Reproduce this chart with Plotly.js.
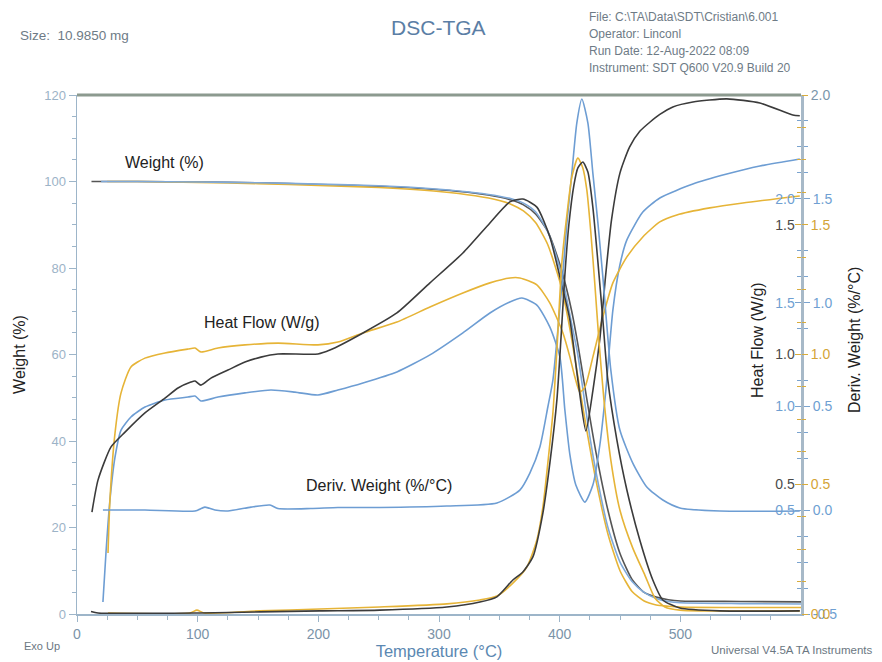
<!DOCTYPE html>
<html>
<head>
<meta charset="utf-8">
<script src="https://cdn.plot.ly/plotly-3.0.1.min.js"></script>
<style>
  html, body { margin: 0; padding: 0; background: #ffffff; }
  #chart { width: 882px; height: 662px; }
</style>
</head>
<body>
<div id="chart"></div>
<script>
// ---- Weight (%) vs temperature (°C) for the three runs ----
const wBlueT  = [20, 50, 100, 150, 200, 250, 300, 330, 350, 360, 370, 380, 390, 400, 405, 410, 415, 420, 425, 430, 440, 450, 460, 470, 480, 490, 500, 550, 600];
const wBlue   = [100.0, 100.0, 99.9, 99.7, 99.4, 99.0, 98.2, 97.4, 96.6, 96.0, 95.0, 93.0, 88.5, 80.0, 74.0, 67.0, 60.0, 50.5, 41.0, 33.0, 20.0, 12.0, 7.5, 5.0, 3.6, 2.9, 2.6, 2.4, 2.3];
const wBlackT = [12, 50, 100, 150, 200, 250, 300, 330, 350, 360, 370, 380, 390, 400, 405, 410, 415, 420, 425, 430, 440, 450, 460, 470, 480, 490, 500, 550, 600];
const wBlack  = [100.0, 100.0, 99.9, 99.7, 99.3, 98.9, 98.1, 97.3, 96.4, 95.7, 94.6, 92.5, 88.5, 81.0, 76.0, 70.0, 62.5, 54.0, 45.5, 37.5, 24.0, 14.0, 8.0, 5.0, 3.9, 3.3, 3.0, 2.9, 2.8];
const wGoldT  = [25, 50, 100, 150, 200, 250, 300, 330, 350, 360, 370, 380, 390, 400, 405, 410, 415, 420, 425, 430, 440, 450, 460, 470, 480, 490, 500, 550, 600];
const wGold   = [100.0, 100.0, 99.8, 99.5, 99.1, 98.6, 97.7, 96.7, 95.6, 94.7, 93.2, 90.5, 85.5, 77.0, 71.0, 63.5, 55.0, 46.5, 38.5, 31.0, 18.5, 10.0, 5.2, 3.0, 2.1, 1.8, 1.6, 1.5, 1.5];

// ---- Heat flow (W/g) ----
const hfBlueT  = [21.5, 24.0, 27.3, 31.5, 36.5, 44.7, 56.3, 72.9, 92.0, 97.8, 102.7, 116.8, 139.2, 160.7, 180.6, 199.7, 216.2, 237.0, 265.1, 292.5, 319.8, 342.2, 358.7, 368.7, 381.1, 391.9, 400.2, 404.3, 408.5, 413.4, 420.9, 427.5, 433.3, 438.3, 444.1, 449.9, 455.7, 468.9, 483.0, 510.4, 538.5, 565.9, 599.0];
const hfBlue   = [0.058, 0.294, 0.549, 0.756, 0.886, 0.949, 0.997, 1.031, 1.045, 1.050, 1.026, 1.045, 1.065, 1.079, 1.069, 1.055, 1.079, 1.113, 1.166, 1.248, 1.354, 1.450, 1.503, 1.522, 1.488, 1.382, 1.238, 0.983, 0.766, 0.621, 0.539, 0.621, 0.814, 1.079, 1.464, 1.681, 1.802, 1.936, 2.004, 2.071, 2.119, 2.158, 2.192];
const hfBlackT = [12.4, 17.4, 28.2, 39.8, 56.3, 72.9, 83.7, 94.4, 97.8, 102.7, 111.0, 125.1, 139.2, 152.4, 166.5, 199.7, 209.6, 237.0, 265.1, 292.5, 319.8, 342.2, 358.7, 369.5, 381.1, 391.9, 400.2, 408.5, 415.1, 421.7, 427.5, 433.3, 438.0, 443.0, 450.0, 458.0, 466.4, 474.7, 483.0, 493.8, 510.4, 538.5, 565.9, 593.2, 599.0];
const hfBlack  = [0.393, 0.516, 0.644, 0.701, 0.775, 0.832, 0.871, 0.894, 0.898, 0.882, 0.909, 0.940, 0.971, 0.990, 1.002, 1.002, 1.017, 1.083, 1.160, 1.276, 1.391, 1.507, 1.588, 1.599, 1.568, 1.453, 1.299, 1.133, 0.902, 0.705, 0.860, 1.060, 1.300, 1.520, 1.700, 1.800, 1.860, 1.895, 1.925, 1.954, 1.973, 1.985, 1.969, 1.923, 1.920];
const hfGoldT  = [25.7, 27.3, 31.5, 36.5, 44.7, 56.3, 72.9, 92.0, 97.8, 102.7, 116.8, 139.2, 166.5, 199.7, 216.2, 237.0, 265.1, 292.5, 319.8, 342.2, 358.7, 367.0, 381.1, 391.9, 402.7, 408.5, 412.6, 416.7, 421.0, 427.5, 435.8, 444.1, 455.7, 468.9, 483.0, 497.1, 524.4, 551.8, 599.0];
const hfGold   = [0.235, 0.439, 0.697, 0.852, 0.952, 0.986, 1.006, 1.021, 1.025, 1.010, 1.025, 1.037, 1.044, 1.037, 1.048, 1.083, 1.125, 1.183, 1.237, 1.276, 1.295, 1.295, 1.268, 1.198, 1.083, 0.990, 0.913, 0.855, 0.875, 0.990, 1.145, 1.276, 1.376, 1.453, 1.511, 1.538, 1.565, 1.584, 1.611];

// ---- Derivative weight (%/°C) ----
const dwBlueT  = [21.5, 56.3, 97.8, 106.0, 114.3, 125.1, 144.2, 159.9, 166.5, 193.9, 216.2, 251.0, 306.5, 348.0, 367.0, 375.3, 383.6, 390.2, 394.4, 398.5, 402.7, 406.0, 410.1, 414.2, 418.4, 423.4, 427.5, 431.7, 435.8, 442.4, 449.9, 460.6, 472.2, 485.5, 499.6, 532.7, 599.0];
const dwBlue   = [0.001, 0.001, -0.004, 0.015, 0.001, -0.004, 0.015, 0.025, 0.008, 0.008, 0.013, 0.013, 0.020, 0.035, 0.097, 0.179, 0.304, 0.497, 0.627, 0.868, 1.143, 1.383, 1.624, 1.865, 1.981, 1.865, 1.624, 1.383, 1.123, 0.675, 0.386, 0.227, 0.112, 0.049, 0.011, -0.004, -0.004];
const dwBlackT = [11.6, 17.4, 101.9, 151.6, 201.3, 251.0, 306.5, 333.9, 348.0, 361.2, 369.5, 377.8, 386.1, 391.9, 397.7, 401.0, 404.3, 407.6, 411.8, 415.1, 419.2, 423.4, 427.5, 431.7, 435.8, 439.9, 447.4, 455.7, 466.4, 477.2, 485.5, 499.6, 532.7, 599.0];
const dwBlack  = [0.010, 0.004, 0.004, 0.008, 0.012, 0.015, 0.027, 0.046, 0.066, 0.131, 0.162, 0.220, 0.389, 0.582, 0.825, 1.056, 1.306, 1.499, 1.653, 1.719, 1.742, 1.703, 1.568, 1.356, 1.133, 0.902, 0.671, 0.478, 0.285, 0.131, 0.054, 0.023, 0.012, 0.012];
const dwGoldT  = [25.7, 93.6, 99.4, 105.2, 151.6, 201.3, 251.0, 306.5, 333.9, 348.0, 361.2, 372.8, 381.1, 386.1, 390.2, 394.4, 397.7, 401.8, 406.0, 410.1, 415.1, 419.2, 422.5, 425.8, 429.2, 432.5, 436.7, 442.4, 449.9, 460.6, 470.6, 478.9, 487.2, 499.6, 599.0];
const dwGold   = [0.004, 0.004, 0.015, 0.004, 0.012, 0.019, 0.027, 0.039, 0.054, 0.069, 0.119, 0.181, 0.285, 0.412, 0.582, 0.775, 1.017, 1.353, 1.538, 1.684, 1.757, 1.719, 1.634, 1.472, 1.268, 1.056, 0.825, 0.593, 0.401, 0.254, 0.150, 0.062, 0.027, 0.015, 0.012];

// Axis tick values
const weightTicks   = [0, 20, 40, 60, 80, 100, 120];
const tempTicks     = [0, 100, 200, 300, 400, 500, 600];
const hfBlueTicks   = [0.5, 1.0, 1.5, 2.0];
const hfOtherTicks  = [0.5, 1.0, 1.5];
const dwBlueTicks   = [-0.5, 0.0, 0.5, 1.0, 1.5];
const dwOtherTicks  = [0.0, 0.5, 1.0, 1.5, 2.0];

const BLUE = '#6d9dd3', BLACK = '#3b3b3b', GOLD = '#e6b437';
const FONT = 'Liberation Sans, Arial, sans-serif';

function curve(x, y, axis, color, width) {
  return {
    type: 'scatter', mode: 'lines', x: x, y: y, yaxis: axis,
    line: { color: color, width: width || 1.6, shape: 'spline', smoothing: 0.6 },
    hoverinfo: 'skip'
  };
}

const traces = [
  curve(wBlackT, wBlack, 'y', '#555555'),
  curve(wGoldT, wGold, 'y', GOLD),
  curve(wBlueT, wBlue, 'y', '#7fa9d8'),
  curve(hfBlueT, hfBlue, 'y2', BLUE),
  curve(hfGoldT, hfGold, 'y3', GOLD),
  curve(hfBlackT, hfBlack, 'y3', BLACK),
  curve(dwBlueT, dwBlue, 'y4', BLUE),
  curve(dwGoldT, dwGold, 'y5', GOLD),
  curve(dwBlackT, dwBlack, 'y5', BLACK)
];

const fmt = v => v.toFixed(1);
const rightBase = {
  overlaying: 'y', side: 'right', anchor: 'x',
  showgrid: false, zeroline: false, tickmode: 'array'
};

const layout = {
  width: 882, height: 662,
  margin: { l: 77, r: 81, t: 95, b: 48 },
  paper_bgcolor: '#ffffff', plot_bgcolor: '#ffffff',
  showlegend: false,
  font: { family: FONT },
  title: {
    text: 'DSC-TGA', x: 0.497, xanchor: 'center', y: 0.958, yanchor: 'middle',
    font: { family: FONT, size: 21, color: '#5b7ea5' }
  },
  xaxis: {
    range: [0, 600], tickmode: 'array', tickvals: tempTicks,
    showgrid: false, zeroline: false,
    showline: true, linecolor: '#9db5c9', linewidth: 2,
    ticks: 'outside', ticklen: 6, tickcolor: '#9db5c9', tickwidth: 1,
    minor: { tickmode: 'linear', tick0: 0, dtick: 25, ticks: 'outside', ticklen: 4, tickcolor: '#9db5c9' },
    tickfont: { family: FONT, size: 14, color: '#7b93a8' },
    title: { text: 'Temperature (°C)', standoff: 5, font: { family: FONT, size: 16.5, color: '#5b88b2' } }
  },
  yaxis: {
    range: [0, 120], tickmode: 'array', tickvals: weightTicks,
    showgrid: false, zeroline: false,
    showline: true, linecolor: '#9db5c9', linewidth: 1.5,
    ticks: 'outside', ticklen: 7, tickcolor: '#9db5c9',
    minor: { tickmode: 'linear', tick0: 0, dtick: 5, ticks: 'outside', ticklen: 4, tickcolor: '#9db5c9' },
    tickfont: { family: FONT, size: 13, color: '#9cb3c7' },
    title: { text: 'Weight (%)', standoff: 14, font: { family: FONT, size: 16, color: '#222222' } }
  },
  // heat flow, blue run: labels inside, left of the right axis
  yaxis2: Object.assign({}, rightBase, {
    range: [0, 2.5], tickvals: hfBlueTicks, ticktext: hfBlueTicks.map(fmt),
    ticks: 'inside', ticklen: 6, tickcolor: '#7aa3cf', ticklabelposition: 'inside',
    minor: { tickmode: 'linear', tick0: 0, dtick: 0.125, ticks: 'inside', ticklen: 4, tickcolor: '#7aa3cf' },
    showline: false,
    tickfont: { family: FONT, size: 14, color: '#6f9fd2' }
  }),
  // heat flow, black and gold runs
  yaxis3: Object.assign({}, rightBase, {
    range: [0, 2.0], tickvals: hfOtherTicks, ticktext: hfOtherTicks.map(fmt),
    ticks: 'inside', ticklen: 6, tickcolor: '#d9ac3c', ticklabelposition: 'inside',
    minor: { tickmode: 'linear', tick0: 0, dtick: 0.125, ticks: 'inside', ticklen: 4, tickcolor: '#d9ac3c' },
    showline: false,
    tickfont: { family: FONT, size: 14, color: '#4a4a4a' }
  }),
  // derivative weight, blue run
  yaxis4: Object.assign({}, rightBase, {
    range: [-0.5, 2.0], tickvals: dwBlueTicks, ticktext: dwBlueTicks.map(fmt),
    ticks: 'outside', ticklen: 6, tickcolor: '#7aa3cf',
    minor: { tickmode: 'linear', tick0: 0, dtick: 0.125, ticks: 'outside', ticklen: 4, tickcolor: '#7aa3cf' },
    showline: true, linecolor: '#a7b9c8', linewidth: 3,
    tickfont: { family: FONT, size: 14, color: '#6f9fd2' }
  }),
  // derivative weight, black and gold runs
  yaxis5: Object.assign({}, rightBase, {
    range: [0, 2.0], tickvals: dwOtherTicks,
    ticktext: dwOtherTicks.map(v => v === 2 ? "<span style='color:#7b96ab'>2.0</span>" : fmt(v)),
    ticks: 'outside', ticklen: 6, tickcolor: '#d9ac3c',
    minor: { tickmode: 'linear', tick0: 0, dtick: 0.125, ticks: 'outside', ticklen: 4, tickcolor: '#d9ac3c' },
    showline: false,
    tickfont: { family: FONT, size: 14, color: '#d4a437' }
  }),
  shapes: [
    { type: 'line', xref: 'paper', yref: 'paper', x0: 0, x1: 1, y0: 1, y1: 1,
      line: { color: '#8c9a8f', width: 3 } }
  ],
  annotations: [
    // curve labels
    { xref: 'x', yref: 'y', x: 38, y: 104.5, xanchor: 'left', yanchor: 'middle', showarrow: false,
      text: 'Weight (%)', font: { family: FONT, size: 16, color: '#222222' } },
    { xref: 'x', yref: 'y', x: 104, y: 67.5, xanchor: 'left', yanchor: 'middle', showarrow: false,
      text: 'Heat Flow (W/g)', font: { family: FONT, size: 16, color: '#222222' } },
    { xref: 'x', yref: 'y', x: 188, y: 29.8, xanchor: 'left', yanchor: 'middle', showarrow: false,
      text: 'Deriv. Weight (%/°C)', font: { family: FONT, size: 16, color: '#222222' } },
    // right axis titles
    { xref: 'paper', yref: 'paper', x: 0.9406, y: 0.528, xanchor: 'center', yanchor: 'middle', showarrow: false,
      textangle: -90, text: 'Heat Flow (W/g)', font: { family: FONT, size: 16, color: '#222222' } },
    { xref: 'paper', yref: 'paper', x: 1.0746, y: 0.528, xanchor: 'center', yanchor: 'middle', showarrow: false,
      textangle: -90, text: 'Deriv. Weight (%/°C)', font: { family: FONT, size: 16, color: '#222222' } },
    // header information
    { xref: 'paper', yref: 'paper', x: -0.0815, y: 1.1156, xanchor: 'left', yanchor: 'middle', showarrow: false,
      text: 'Size:  10.9850 mg', font: { family: FONT, size: 13.5, color: '#6e7b86' } },
    { xref: 'paper', yref: 'paper', x: 0.7044, y: 1.150, xanchor: 'left', yanchor: 'middle', showarrow: false,
      text: 'File: C:\\TA\\Data\\SDT\\Cristian\\6.001', font: { family: FONT, size: 12, color: '#6e7b86' } },
    { xref: 'paper', yref: 'paper', x: 0.7044, y: 1.1175, xanchor: 'left', yanchor: 'middle', showarrow: false,
      text: 'Operator: Linconl', font: { family: FONT, size: 12, color: '#6e7b86' } },
    { xref: 'paper', yref: 'paper', x: 0.7044, y: 1.0848, xanchor: 'left', yanchor: 'middle', showarrow: false,
      text: 'Run Date: 12-Aug-2022 08:09', font: { family: FONT, size: 12, color: '#6e7b86' } },
    { xref: 'paper', yref: 'paper', x: 0.7044, y: 1.052, xanchor: 'left', yanchor: 'middle', showarrow: false,
      text: 'Instrument: SDT Q600 V20.9 Build 20', font: { family: FONT, size: 12, color: '#6e7b86' } },
    // footer
    { xref: 'paper', yref: 'paper', x: -0.076, y: -0.0617, xanchor: 'left', yanchor: 'middle', showarrow: false,
      text: 'Exo Up', font: { family: FONT, size: 11, color: '#6b7782' } },
    { xref: 'paper', yref: 'paper', x: 1.102, y: -0.0694, xanchor: 'right', yanchor: 'middle', showarrow: false,
      text: 'Universal V4.5A TA Instruments', font: { family: FONT, size: 11.5, color: '#6b7782' } }
  ]
};

Plotly.newPlot('chart', traces, layout, { staticPlot: true, displayModeBar: false });
</script>
</body>
</html>
